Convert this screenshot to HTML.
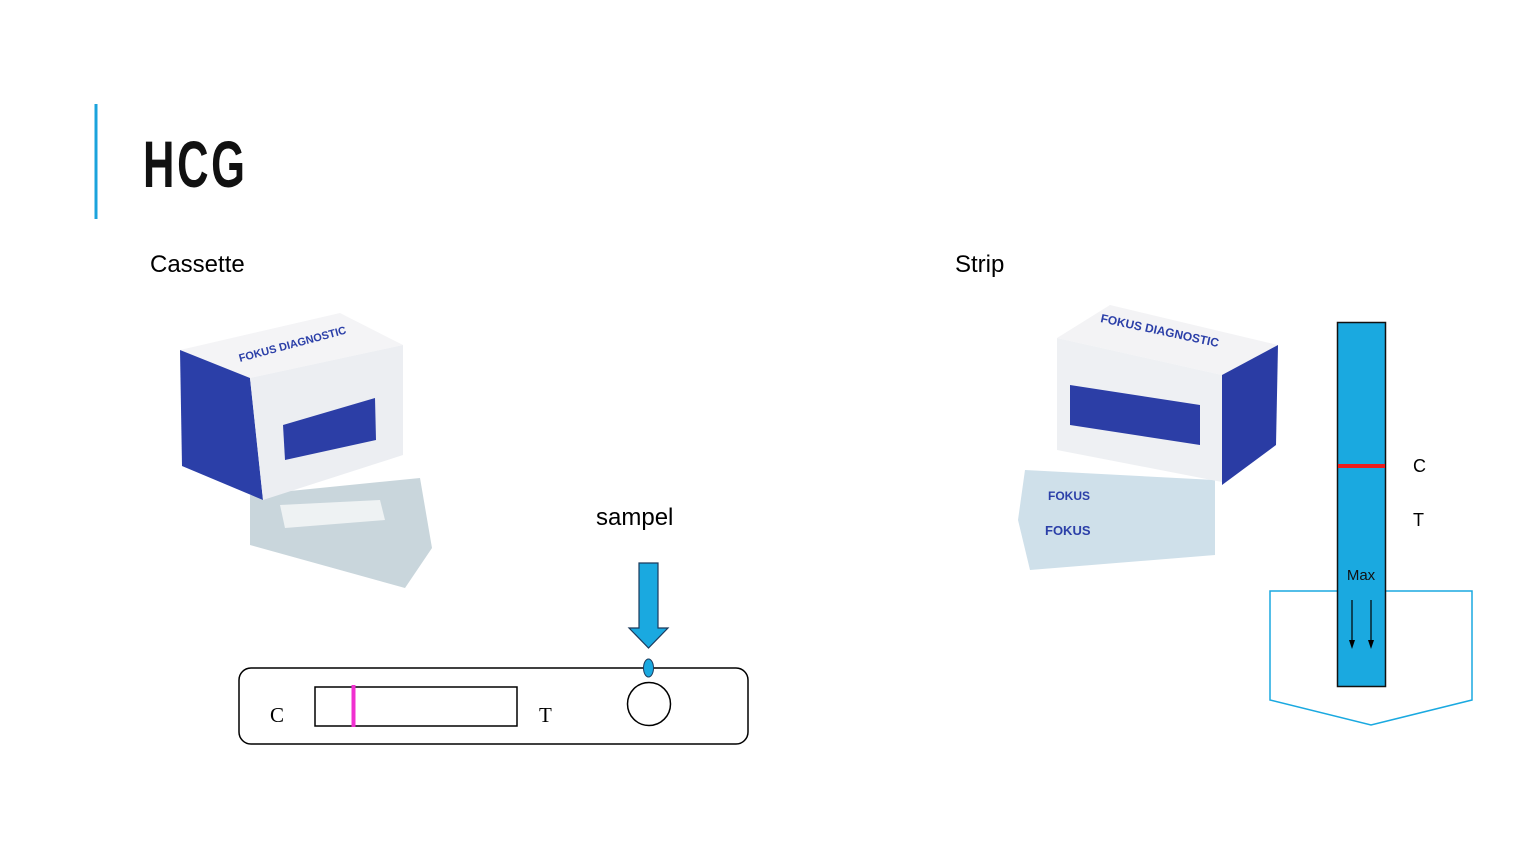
<!DOCTYPE html>
<html><head><meta charset="utf-8"><style>
html,body{margin:0;padding:0;background:#fff;}
svg{display:block;}
</style></head><body>
<svg width="1536" height="864" viewBox="0 0 1536 864" xmlns="http://www.w3.org/2000/svg" font-family="Liberation Sans, sans-serif">
<rect width="1536" height="864" fill="#fff"/>
<line x1="96" y1="104" x2="96" y2="219" stroke="#1ba3dc" stroke-width="3"/>
<text x="143" y="187" font-size="66" font-weight="bold" fill="#111" transform="translate(143 0) scale(0.66 1) translate(-143 0)" letter-spacing="4">HCG</text>
<text x="150" y="272" font-size="24" fill="#000">Cassette</text>
<text x="955" y="272" font-size="24" fill="#000">Strip</text>

<!-- cassette photo approx -->
<polygon points="250,495 420,478 432,548 405,588 250,545" fill="#c9d6dc"/>
<polygon points="280,505 380,500 385,520 285,528" fill="#eef2f3"/>
<polygon points="180,350 340,313 403,345 250,378" fill="#f4f4f6"/>
<polygon points="180,350 250,378 263,500 182,466" fill="#2b3fa8"/>
<polygon points="250,378 403,345 403,455 263,500" fill="#eceef2"/>
<polygon points="283,425 375,398 376,440 285,460" fill="#2c3ea6"/>
<text x="240" y="362" font-size="11" font-weight="bold" fill="#2b3fa8" transform="rotate(-15 240 362)">FOKUS DIAGNOSTIC</text>

<!-- strip photo approx -->
<polygon points="1025,470 1215,480 1215,555 1030,570 1018,520" fill="#cfe0ea"/>
<polygon points="1057,338 1110,305 1278,345 1222,375" fill="#f3f3f5"/>
<polygon points="1057,338 1222,375 1222,482 1057,450" fill="#eef0f3"/>
<polygon points="1222,375 1278,345 1276,445 1222,485" fill="#2a3ca4"/>
<polygon points="1070,385 1200,405 1200,445 1070,425" fill="#2c3ea6"/>
<text x="1100" y="322" font-size="12" font-weight="bold" fill="#2b3fa8" transform="rotate(12 1100 322)">FOKUS DIAGNOSTIC</text>
<text x="1045" y="535" font-size="13" font-weight="bold" fill="#2b3fa8">FOKUS</text>
<text x="1048" y="500" font-size="12" font-weight="bold" fill="#2b3fa8">FOKUS</text>

<!-- sampel -->
<text x="596" y="525" font-size="24" fill="#000">sampel</text>
<polygon points="639,563 658,563 658,628 668,628 648.5,648 629,628 639,628" fill="#1aa9e0" stroke="#1c3a5c" stroke-width="1.2"/>
<rect x="239" y="668" width="509" height="76" rx="12" fill="none" stroke="#000" stroke-width="1.5"/>
<ellipse cx="648.5" cy="668" rx="5" ry="9" fill="#1aa9e0" stroke="#1c3a5c" stroke-width="1"/>
<circle cx="649" cy="704" r="21.5" fill="none" stroke="#000" stroke-width="1.5"/>
<rect x="315" y="687" width="202" height="39" fill="none" stroke="#000" stroke-width="1.5"/>
<line x1="353.5" y1="685" x2="353.5" y2="727" stroke="#f030d0" stroke-width="4"/>
<text x="270" y="722" font-size="21" font-family="Liberation Serif, serif" fill="#000">C</text>
<text x="539" y="722" font-size="21" font-family="Liberation Serif, serif" fill="#000">T</text>

<!-- strip diagram -->
<polyline points="1337,591 1270,591 1270,700 1371,725 1472,700 1472,591 1385,591" fill="none" stroke="#1aa9e0" stroke-width="1.5"/>
<rect x="1337.5" y="322.5" width="48" height="364" fill="#1aa9e0" stroke="#111" stroke-width="1.5"/>
<line x1="1338" y1="466" x2="1385" y2="466" stroke="#ee1c1c" stroke-width="4"/>
<text x="1361" y="580" font-size="15" text-anchor="middle" fill="#111">Max</text>
<line x1="1352" y1="600" x2="1352" y2="642" stroke="#000" stroke-width="1.2"/>
<polygon points="1349,640 1355,640 1352,649" fill="#000"/>
<line x1="1371" y1="600" x2="1371" y2="642" stroke="#000" stroke-width="1.2"/>
<polygon points="1368,640 1374,640 1371,649" fill="#000"/>
<text x="1413" y="472" font-size="18" fill="#000">C</text>
<text x="1413" y="526" font-size="18" fill="#000">T</text>
</svg>
</body></html>
